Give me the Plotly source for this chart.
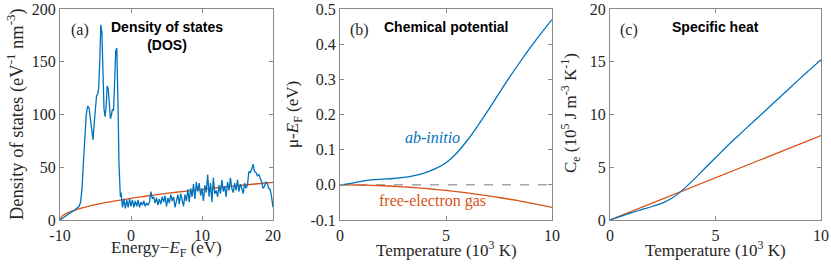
import plotly.graph_objects as go

# ---------------- data ----------------
# (a) Density of states
dos_energy = [-10, -9.6, -9.2, -8.8, -8.4, -8.0, -7.6, -7.3,
              -7.1, -6.9, -6.7, -6.5, -6.3, -6.1, -5.9, -5.7, -5.5, -5.35, -5.2, -5.0,
              -4.85, -4.7, -4.55, -4.4, -4.25, -4.1, -3.95, -3.8, -3.65, -3.5, -3.35,
              -3.2, -3.05, -2.9, -2.75, -2.6, -2.45, -2.3, -2.15, -2.0, -1.9, -1.8,
              -1.7, -1.6, -1.5, -1.4,
              -1.2, -1.0, -0.8, -0.6, -0.4, -0.2, 0.0, 0.2, 0.4, 0.6, 0.8, 1.0, 1.2, 1.4,
              1.6, 1.8, 2.0, 2.2, 2.4, 2.6, 2.8, 3.0, 3.2, 3.4, 3.6, 3.8, 4.0, 4.2, 4.4,
              4.6, 4.8, 5.0, 5.2, 5.4, 5.6, 5.8, 6.0, 6.2, 6.4, 6.6, 6.8, 7.0, 7.2, 7.4,
              7.6, 7.8, 8.0, 8.2, 8.4, 8.6, 8.8, 9.0, 9.2, 9.4, 9.6, 9.8, 10.0, 10.2,
              10.4, 10.6, 10.8, 11.0, 11.2, 11.4, 11.6, 11.8, 12.0, 12.2, 12.4, 12.6,
              12.8, 13.0, 13.2, 13.4, 13.6, 13.8, 14.0, 14.2, 14.4, 14.6, 14.8, 15.0,
              15.2, 15.4, 15.6, 15.8, 16.0, 16.2, 16.4, 16.6, 16.8, 17.0, 17.2, 17.4,
              17.6, 17.8, 18.0, 18.2, 18.4, 18.6, 18.8, 19.0, 19.2, 19.4, 19.6, 19.8, 20.0]
dos_abinitio = [0, 2, 4, 6, 7.5, 9, 11, 13,
                17, 30, 55, 80, 100, 108, 106, 95, 82, 76, 90, 110,
                118, 119, 125, 150, 185, 178, 140, 105, 98, 108, 127,
                124, 110, 96, 100, 105, 104, 130, 160, 163, 140, 100,
                55, 25, 22, 26,
                12, 20, 11, 19, 12, 20, 13, 19, 12, 18, 13, 19, 12, 17,
                14, 18, 13, 16, 14, 17, 27, 20, 22, 16, 21, 14, 20, 15, 22,
                17, 23, 13, 21, 16, 24, 18, 22, 12, 20, 24, 15, 25, 19, 13,
                24, 18, 29, 17, 30, 22, 34, 20, 36, 27, 35, 23, 30, 18,
                33, 26, 43, 22, 35, 17, 40, 25, 28, 22, 33, 25,
                38, 27, 32, 22, 36, 28, 40, 30, 26, 35, 28, 38,
                27, 34, 30, 25, 35, 30, 33, 46, 45, 48, 53, 46,
                45, 42, 43, 40, 36, 30, 32, 36, 35, 30, 29, 22, 12]
feg_energy = [-10, -9.8, -9.5, -9.0, -8.5, -8.0, -7.0, -6.0, -5.0, -4.0, -2.0, 0.0,
              2.0, 5.0, 7.5, 10.0, 12.5, 15.0, 17.5, 20.0]
feg_dos = [0, 2.9, 4.6, 6.5, 8.0, 9.2, 11.3, 13.0, 14.5, 15.9, 18.4, 20.6,
           22.5, 25.2, 27.2, 29.1, 30.8, 32.5, 34.1, 35.6]

# (b) Chemical potential and (c) specific heat vs temperature (10^3 K)
temperature = [0, 0.5, 1, 1.5, 2, 2.5, 3, 3.5, 4, 4.5, 5, 5.5, 6, 6.5, 7, 7.5, 8,
               8.5, 9, 9.5, 10]
mu_abinitio = [0, 0.004, 0.010, 0.014, 0.016, 0.018, 0.021, 0.026, 0.034, 0.046,
               0.063, 0.09, 0.126, 0.168, 0.213, 0.26, 0.306, 0.35, 0.392, 0.432, 0.47]
mu_feg = [0, -0.0002, -0.0007, -0.0015, -0.0026, -0.004, -0.0058, -0.0079, -0.0103,
          -0.013, -0.016, -0.0194, -0.023, -0.027, -0.0314, -0.036, -0.041, -0.0462,
          -0.0518, -0.0578, -0.064]
ce_abinitio = [0, 0.35, 0.68, 0.98, 1.28, 1.62, 2.15, 2.95, 3.9, 4.9, 5.9, 6.9,
               7.85, 8.78, 9.7, 10.62, 11.55, 12.47, 13.4, 14.3, 15.2]
ce_feg = [0, 0.4, 0.8, 1.2, 1.6, 2.0, 2.4, 2.8, 3.2, 3.6, 4.0, 4.4, 4.8, 5.2, 5.6,
          6.0, 6.4, 6.8, 7.2, 7.6, 8.0]

# tick labels
a_xticks = [-10, 0, 10, 20]
a_xticktext = ["-10", "0", "10", "20"]
a_yticks = [0, 50, 100, 150, 200]
b_xticks = [0, 5, 10]
b_yticks = [-0.1, 0.0, 0.1, 0.2, 0.3, 0.4, 0.5]
b_yticktext = ["-0.1", "0.0", "0.1", "0.2", "0.3", "0.4", "0.5"]
c_xticks = [0, 5, 10]
c_yticks = [0, 5, 10, 15, 20]

# ---------------- style ----------------
BLUE = "#0072BD"
ORANGE = "#D95319"
W, H = 831, 265
SERIF = "Liberation Serif, Times New Roman, serif"
SANS = "Liberation Sans, Arial, sans-serif"
TXT = "#262626"
AXL = "#8a8a8a"


def px_x(p):
    return p / W


def px_y(p):
    return 1 - p / H


fig = go.Figure()
fig.add_trace(go.Scatter(x=feg_energy, y=feg_dos, mode="lines", line=dict(color=ORANGE, width=1.3, shape="spline"),
                         xaxis="x", yaxis="y", showlegend=False))
fig.add_trace(go.Scatter(x=dos_energy, y=dos_abinitio, mode="lines", line=dict(color=BLUE, width=1.3),
                         xaxis="x", yaxis="y", showlegend=False))

fig.add_trace(go.Scatter(x=[0, 10], y=[0, 0], mode="lines", line=dict(color="#A6A6A6", width=1.5, dash="dash"),
                         xaxis="x2", yaxis="y2", showlegend=False))
fig.add_trace(go.Scatter(x=temperature, y=mu_feg, mode="lines", line=dict(color=ORANGE, width=1.3, shape="spline"),
                         xaxis="x2", yaxis="y2", showlegend=False))
fig.add_trace(go.Scatter(x=temperature, y=mu_abinitio, mode="lines", line=dict(color=BLUE, width=1.3, shape="spline"),
                         xaxis="x2", yaxis="y2", showlegend=False))

fig.add_trace(go.Scatter(x=temperature, y=ce_feg, mode="lines", line=dict(color=ORANGE, width=1.3),
                         xaxis="x3", yaxis="y3", showlegend=False))
fig.add_trace(go.Scatter(x=temperature, y=ce_abinitio, mode="lines", line=dict(color=BLUE, width=1.3, shape="spline"),
                         xaxis="x3", yaxis="y3", showlegend=False))


def axis(domain, rng, tickvals, ticktext=None, anchor=None, standoff=0):
    d = dict(domain=domain, range=rng, tickvals=tickvals, showgrid=False, zeroline=False,
             showline=True, linecolor=AXL, linewidth=1, mirror="ticks", ticks="inside",
             ticklen=4, tickcolor=AXL, tickwidth=1, automargin=False, ticklabeloverflow="allow",
             ticklabelstandoff=standoff,
             tickfont=dict(family=SERIF, size=16, color=TXT), anchor=anchor)
    if ticktext is not None:
        d["ticktext"] = ticktext
    return d


ydom = [px_y(220), px_y(9)]
fig.update_layout(
    width=W, height=H, margin=dict(l=0, r=0, t=0, b=0, autoexpand=False),
    paper_bgcolor="white", plot_bgcolor="white",
    xaxis=axis([px_x(60), px_x(273)], [-10, 20], a_xticks, a_xticktext, "y", 1),
    yaxis=axis(ydom, [0, 200], a_yticks, None, "x"),
    xaxis2=axis([px_x(340), px_x(552)], [0, 10], b_xticks, None, "y2", 1),
    yaxis2=axis(ydom, [-0.1, 0.5], b_yticks, b_yticktext, "x2"),
    xaxis3=axis([px_x(610), px_x(821)], [0, 10], c_xticks, None, "y3", 1),
    yaxis3=axis(ydom, [0, 20], c_yticks, None, "x3"),
)

ann = []
# axis titles
xt_y = px_y(249)
ann.append(dict(xref="paper", yref="paper", x=px_x(166), y=xt_y, text="Energy\u2212<i>E</i><sub>F</sub> (eV)",
                showarrow=False, xanchor="center", yanchor="middle", font=dict(family=SERIF, size=17, color=TXT)))
ann.append(dict(xref="paper", yref="paper", x=px_x(446), y=xt_y, text="Temperature (10<sup>3</sup> K)",
                showarrow=False, xanchor="center", yanchor="middle", font=dict(family=SERIF, size=17, color=TXT)))
ann.append(dict(xref="paper", yref="paper", x=px_x(715), y=xt_y, text="Temperature (10<sup>3</sup> K)",
                showarrow=False, xanchor="center", yanchor="middle", font=dict(family=SERIF, size=17, color=TXT)))
ann.append(dict(xref="paper", yref="paper", x=px_x(15), y=px_y(114), textangle=-90,
                text="Density of states (eV<sup>-1</sup> nm<sup>-3</sup>)",
                showarrow=False, xanchor="center", yanchor="middle", font=dict(family=SERIF, size=18.5, color=TXT)))
ann.append(dict(xref="paper", yref="paper", x=px_x(294), y=px_y(115), textangle=-90,
                text="\u03bc-<i>E</i><sub>F</sub> (eV)",
                showarrow=False, xanchor="center", yanchor="middle", font=dict(family=SERIF, size=17, color=TXT)))
ann.append(dict(xref="paper", yref="paper", x=px_x(570), y=px_y(113), textangle=-90,
                text="C<sub>e</sub> (10<sup>5</sup> J m<sup>-3</sup> K<sup>-1</sup>)",
                showarrow=False, xanchor="center", yanchor="middle", font=dict(family=SERIF, size=17, color=TXT)))
# panel labels
for xr, yr, lab in [("x", "y", "(a)"), ("x2", "y2", "(b)"), ("x3", "y3", "(c)")]:
    ann.append(dict(xref=xr + " domain", yref=yr + " domain", x=0.04, y=0.9, text=lab, showarrow=False,
                    xanchor="left", yanchor="middle", font=dict(family=SERIF, size=16, color=TXT)))
ann.append(dict(xref="x domain", yref="y domain", x=0.5, y=0.87,
                text="<b>Density of states</b><br><b>(DOS)</b>", showarrow=False,
                xanchor="center", yanchor="middle", font=dict(family=SANS, size=14, color="black")))
ann.append(dict(xref="x2 domain", yref="y2 domain", x=0.5, y=0.915, text="<b>Chemical potential</b>",
                showarrow=False, xanchor="center", yanchor="middle", font=dict(family=SANS, size=14, color="black")))
ann.append(dict(xref="x3 domain", yref="y3 domain", x=0.5, y=0.915, text="<b>Specific heat</b>",
                showarrow=False, xanchor="center", yanchor="middle", font=dict(family=SANS, size=14, color="black")))
ann.append(dict(xref="x2", yref="y2", x=4.35, y=0.135, text="<i>ab-initio</i>", showarrow=False,
                xanchor="center", yanchor="middle", font=dict(family=SERIF, size=16, color=BLUE)))
ann.append(dict(xref="x2", yref="y2", x=4.35, y=-0.045, text="free-electron gas", showarrow=False,
                xanchor="center", yanchor="middle", font=dict(family=SERIF, size=16, color=ORANGE)))
fig.update_layout(annotations=ann)

# remove the default page margin so the figure sits at the window's top-left corner
fig.write_html("out.html", config={"displayModeBar": False},
               post_script="document.body.style.margin='0';document.body.style.overflow='hidden';")
